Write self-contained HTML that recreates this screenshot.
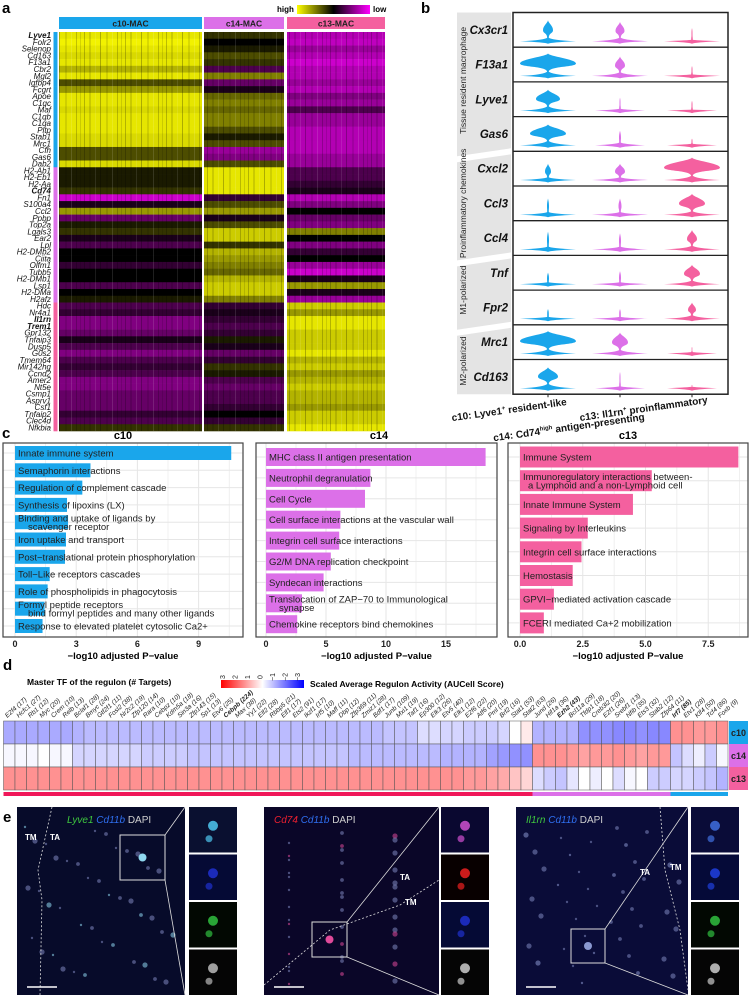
<!DOCTYPE html>
<html><head><meta charset="utf-8"><style>
html,body{margin:0;padding:0;background:#fff;}
svg{display:block;font-family:"Liberation Sans",Arial,sans-serif;}
</style></head><body>
<svg id="fig" xmlns="http://www.w3.org/2000/svg" width="750" height="996" viewBox="0 0 750 996">
<defs>
<linearGradient id="hlGrad" x1="0" x2="1" y1="0" y2="0"><stop offset="0" stop-color="#ffff00"/><stop offset="0.5" stop-color="#000"/><stop offset="1" stop-color="#ff00ff"/></linearGradient>
<linearGradient id="rbGrad" x1="0" x2="1" y1="0" y2="0"><stop offset="0" stop-color="#ff0000"/><stop offset="0.5" stop-color="#fff"/><stop offset="1" stop-color="#0000ff"/></linearGradient>
<pattern id="stripes" patternUnits="userSpaceOnUse" width="41" height="7">
<rect x="2" y="0" width="1" height="7" fill="#000" opacity="0.22"/><rect x="7" y="0" width="2" height="7" fill="#000" opacity="0.12"/><rect x="13" y="0" width="1" height="7" fill="#fff" opacity="0.1"/><rect x="18" y="0" width="1" height="7" fill="#000" opacity="0.25"/><rect x="24" y="0" width="2" height="7" fill="#000" opacity="0.1"/><rect x="30" y="0" width="1" height="7" fill="#fff" opacity="0.12"/><rect x="35" y="0" width="1" height="7" fill="#000" opacity="0.2"/><rect x="39" y="0" width="1" height="7" fill="#000" opacity="0.12"/>
</pattern>
</defs>
</svg>
<script>
// ---------- Panel a data ----------
const genesA=["Lyve1","Folr2","Selenop","Cd163","F13a1","Cbr2","Mgl2","Igfbp4","Fcgrt","Apoe","C1qc","Maf","C1qb","C1qa","Pltp","Stab1","Mrc1","Cfh","Gas6","Dab2","H2-Ab1","H2-Eb1","H2-Aa","Cd74","Fn1","S100a4","Ccl2","Ppbp","Top2a","Lgals3","Ear2","Lpl","H2-DMb2","Ciita","Olfm1","Tubb5","H2-DMb1","Lsp1","H2-DMa","H2afz","Hdc","Nr4a1","Il1rn","Trem1","Gpr132","Tnfaip3","Dusp5","G0s2","Tmem64","Mir142hg","Ccnd2","Amer2","Nt5e","Csmp1","Asprv1","Csf1","Tnfaip2","Clec4d","Nfkbia"];
const boldGenesA=["Lyve1","Cd74","Il1rn","Trem1"];
const heatC10=[.9,.95,.9,.85,.9,.7,.9,.3,.6,.9,.9,.85,.9,.9,.9,.85,.85,.3,.3,.85,.1,.1,.1,.2,-.8,-.1,.6,-.4,.1,.2,-.1,-.3,0,0,-.2,0,0,-.3,0,.1,-.3,-.2,-.5,-.5,-.4,-.1,-.3,-.5,-.3,-.2,-.3,-.5,-.5,-.4,-.4,-.4,-.2,-.3,.2];
const heatC14=[.2,0,.1,.3,.2,-.3,.5,-.4,-.1,.4,.5,.4,.5,.5,.3,.1,.3,-.6,-.5,.3,.9,.9,.9,.9,-.2,.3,.6,-.1,.3,.8,.8,.2,.7,.6,.5,.4,.7,.8,.8,.5,-.2,-.1,-.2,-.3,-.2,.1,-.1,-.4,-.2,.2,.1,-.3,-.4,-.3,-.3,-.2,0,-.2,.2];
const heatC13=[-.7,-.75,-.6,-.7,-.8,-.7,-.7,-.6,-.7,-.5,-.6,-.3,-.6,-.6,-.7,-.7,-.7,-.7,-.6,-.6,-.3,-.3,-.2,-.1,-.7,-.5,0,-.4,-.5,.5,0,-.5,-.2,0,-.6,-.8,-.1,.6,-.1,-.6,.8,.6,.9,.9,.8,.8,.8,.9,.7,.8,.6,.7,.8,.7,.7,.6,.8,.8,.9];
const clusterNamesA=["c10-MAC","c14-MAC","c13-MAC"];

// ---------- Panel b data ----------
const genesB=["Cx3cr1","F13a1","Lyve1","Gas6","Cxcl2","Ccl3","Ccl4","Tnf","Fpr2","Mrc1","Cd163"];
const bulbC10=[5,28,12,18,3,1,1,1,0.8,28,10];
const bulbC14=[4.5,5,0.5,1,5,1.5,1,1,0.8,8,0.5];
const bulbC13=[0.5,0.5,0.5,0.5,28,13,5,8,4,0.3,0.3];
const topC10=[.85,.9,.85,.85,.7,.7,.75,.55,.5,.9,.85];
const topC14=[.8,.8,.6,.65,.7,.7,.7,.6,.5,.85,.7];
const topC13=[.6,.5,.5,.4,.9,.85,.8,.8,.7,.4,.3];
const baseC10=[28,28,28,28,28,28,28,28,28,28,28];
const baseC14=[28,28,25,25,28,28,28,28,28,28,25];
const baseC13=[28,28,25,25,28,28,28,28,28,25,25];
const thickC10=[4,5,5,5,3,3,3,2,2,5,5];
const thickC14=[4,4,2,3,3,3,3,2,2,4,2];
const thickC13=[1.5,1.5,1,1.5,5,4,4,4,4,1.5,1.5];
const groupsB=[["Tissue resident macrophage",0,4],["Proinflammatory chemokines",4,7],["M1-polarized",7,9],["M2-polarized",9,11]];
const xLabelsB=["c10: Lyve1","c14: Cd74","c13: Il1rn"];

// ---------- Panel c data ----------
const termsC10=["Innate immune system","Semaphorin interactions","Regulation of complement cascade","Synthesis of lipoxins (LX)","Binding and uptake of ligands by|    scavenger receptor","Iron uptake and transport","Post−translational protein phosphorylation","Toll−Like receptors cascades","Role of phospholipids in phagocytosis","Formyl peptide receptors|    bind formyl peptides and many other ligands","Response to elevated platelet cytosolic Ca2+"];
const valsC10=[10.6,3.7,3.3,2.55,2.6,2.5,2.45,1.7,1.6,1.45,1.35];
const ticksC10=[0,3,6,9];
const termsC14=["MHC class II antigen presentation","Neutrophil degranulation","Cell Cycle","Cell surface interactions at the vascular wall","Integrin cell surface interactions","G2/M DNA replication checkpoint","Syndecan interactions","Translocation of ZAP−70 to Immunological|    synapse","Chemokine receptors bind chemokines"];
const valsC14=[18.3,8.7,8.25,6.2,6.1,5.4,4.8,3.0,2.6];
const ticksC14=[0,5,10,15];
const termsC13=["Immune System","Immunoregulatory interactions between-|  a Lymphoid and a non-Lymphoid cell","Innate Immune System","Signaling by Interleukins","Integrin cell surface interactions","Hemostasis","GPVI−mediated activation cascade","FCERI mediated Ca+2 mobilization"];
const valsC13=[8.7,5.25,4.5,2.7,2.45,2.1,1.35,0.95];
const ticksC13=[0,2.5,5,7.5];

// ---------- Panel d data ----------
const tfNames=["E2f4 (17)","Hcfc1 (27)","Rb1 (12)","Myc (20)","Crem (10)","Relb (13)","Bclaf1 (28)","Bmyc (24)","Gtf2f1 (11)","Fosl2 (38)","Nr2c2 (19)","Zfp120 (14)","Rara (10)","Cebpz (10)","Kdm5a (18)","Sin3a (16)","Zfp143 (15)","Sp1 (13)","Etv6 (25)","Cebpb (224)","Max (38)","Yy1 (22)","Elf2 (28)","Rbbp5 (21)","Elf1 (17)","Ets2 (91)","Ikzf1 (17)","Irf5 (10)","Maff (11)","Dbp (12)","Zfp369 (11)","Zmiz1 (28)","Bdf1 (17)","Junb (109)","Mxi1 (19)","Taf1 (16)","Ep300 (12)","Elk3 (26)","Etv5 (40)","Elk1 (12)","E2f6 (22)","Atf6 (20)","Pml (19)","Brf2 (16)","Stat1 (53)","Stat2 (63)","Jund (26)","Hif1a (36)","Ezh2 (43)","Bcl11a (29)","Tfdp1 (18)","Creb3l2 (20)","E2f1 (26)","Srebf1 (13)","Nfib (35)","Ets3 (32)","Stab2 (12)","Zfp64 (11)","Irf7 (85)","Etv1 (28)","Klf4 (50)","Tcf4 (86)","Foxb (9)"];
const boldTF=["Cebpb (224)","Ezh2 (43)","Irf7 (85)"];
const aucC10=[-1,-1,-1,-1,-1,-1,-.9,-.8,-.8,-.8,-.8,-.8,-.8,-.8,-.8,-.8,-.8,-.8,-.8,-.8,-.8,-.8,-.8,-.8,-.8,-.8,-.8,-.8,-.8,-.8,-.8,-.8,-.8,-.7,-.7,-.7,-.4,-.4,-.5,-.5,-.6,-.6,-.6,-.5,0,.25,-.9,-.9,-.9,-.9,-1.3,-1.3,-1.3,-1.4,-1.4,-1.3,-1.4,-1.4,1.3,1.3,1.2,1.2,1.3];
const aucC14=[-.1,-.1,-.1,0,-.1,-.1,-.5,-.5,-.5,-.5,-.5,-.5,-.6,-.6,-.6,-.6,-.7,-.7,-.7,-.7,-.7,-.7,-.7,-.7,-.7,-.7,-.7,-.7,-.7,-.7,-.8,-.8,-.8,-.8,-.8,-.8,-.8,-.8,-.9,-.9,-.9,-.9,-1.1,-1.2,-1.3,-1.3,1.3,1.3,1.3,1.2,1.1,1.2,1.2,1.3,1.2,1.1,1.2,1.2,-.7,-.4,-.2,-.6,-.1];
const aucC13=[1.3,1.3,1.3,1.3,1.3,1.3,1.3,1.3,1.3,1.3,1.3,1.3,1.3,1.3,1.3,1.3,1.3,1.3,1.3,1.3,1.3,1.3,1.3,1.3,1.3,1.3,1.3,1.3,1.3,1.3,1.3,1.3,1.3,1.3,1.3,1.3,1.3,1.3,1.3,1.3,1.2,1.2,1.1,1,.7,.5,-.4,-.6,-.7,-.3,0,-.2,0,-.4,-.1,0,-.6,-.6,-.5,-.5,-.6,-.7,-.9];
const groupSizesD=[46,12,5];

// ---------- helpers ----------
const NS='http://www.w3.org/2000/svg';
const svg=document.getElementById('fig');
function el(tag,attrs,parent){const e=document.createElementNS(NS,tag);for(const k in attrs)e.setAttribute(k,attrs[k]);(parent||svg).appendChild(e);return e;}
function txt(str,attrs,parent){const t=el('text',attrs,parent);t.textContent=str;return t;}
const BLUE='#1aa6eb',VIOL='#dc70e8',PINK='#f4609f';
const clusterColors=[BLUE,VIOL,PINK];

[["a",2,13],["b",421,13],["c",2,438],["d",3,670],["e",3,822]].forEach(function(p){
 const t=txt(p[0],{x:p[1],y:p[2],'font-size':15,'font-weight':'bold'});
 
 
});

// ========== Panel a ==========
(function(){
 const g=el('g',{});
 
 
 let t=txt('high',{x:277,y:12,'font-size':8,'font-weight':'bold'},g);
 
 
 let r=el('rect',{x:297,y:5,width:73,height:9,fill:'url(#hlGrad)'},g);
 
 
 t=txt('low',{x:373,y:12,'font-size':8,'font-weight':'bold'},g);
 
 
 const xr=[[59,202],[204,284],[287,385]];
 const top=32,bot=431,rh=(bot-top)/genesA.length;
 const sets=[heatC10,heatC14,heatC13];
 xr.forEach(function(c,ci){
  const hb=el('rect',{x:c[0],y:17,width:c[1]-c[0],height:12,fill:clusterColors[ci]},g);
  
  
  const ht=txt(clusterNamesA[ci],{x:(c[0]+c[1])/2,y:26.5,'font-size':8.5,'font-weight':'bold','text-anchor':'middle',fill:'#222'},g);
  
  
 });
 function col(v){v=Math.max(-1,Math.min(1,v));if(v>=0){const k=Math.round(255*v);return 'rgb('+k+','+k+',0)';}const k=Math.round(255*-v);return 'rgb('+k+',0,'+k+')';}
 genesA.forEach(function(gn,i){
  const y=top+i*rh;
  xr.forEach(function(c,ci){
   const cell=el('rect',{x:c[0],y:y,width:c[1]-c[0],height:rh+0.3,fill:col(sets[ci][i])},g);
   
   
  });
  const lab=txt(gn,{x:51,y:y+rh/2+2.8,'font-size':8,'font-style':'italic','text-anchor':'end','font-weight':boldGenesA.indexOf(gn)>=0?'bold':'normal',fill:'#111'},g);
  
  
  const sb=el('rect',{x:53.5,y:y,width:4,height:rh+0.3,fill:i<20?BLUE:(i<40?VIOL:PINK)},g);
  
  
 });
 xr.forEach(function(c){
  const ov=el('rect',{x:c[0],y:top,width:c[1]-c[0],height:bot-top,fill:'url(#stripes)'},g);
  
  
 });
})();

// ========== Panel b ==========
(function(){
 const g=el('g',{});
 
 
 const L=513,R=728,T=12.5,rh=34.7,n=genesB.length,B=T+rh*n;
 const cxs=[548,620,692];
 const bulbs=[bulbC10,bulbC14,bulbC13],tops=[topC10,topC14,topC13],bases=[baseC10,baseC14,baseC13],thicks=[thickC10,thickC14,thickC13];
 groupsB.forEach(function(gr,gi){
  const y0=T+gr[1]*rh+(gi>0?3:0), y1=T+gr[2]*rh-(gi<groupsB.length-1?3:0);
  const poly=el('polygon',{points:(457)+','+(y0+(gi>0?8:0))+' 511,'+y0+' 511,'+y1+' 457,'+(y1+(gi<groupsB.length-1?8:0)),fill:'#e4e4e4'},g);
  
  
  const cy=(y0+y1)/2;
  const gt=txt(gr[0],{x:466,y:cy,'font-size':8.5,'text-anchor':'middle',transform:'rotate(-90 466 '+cy+')',fill:'#222'},g);
  
  
 });
 genesB.forEach(function(gn,i){
  const rt=T+i*rh, rb=rt+rh;
  const lab=txt(gn,{x:508,y:rt+rh/2+4,'font-size':11.5,'font-style':'italic','font-weight':'bold','text-anchor':'end',fill:'#111'},g);
  
  
  cxs.forEach(function(cx,ci){
   const wb=bases[ci][i],bt=thicks[ci][i],wu=bulbs[ci][i],tp=tops[ci][i];
   const baseY=rb-6;
   const base=el('path',{d:'M'+(cx-wb)+','+baseY+' Q'+(cx-3)+','+(baseY-1)+' '+cx+','+(baseY-bt)+' Q'+(cx+3)+','+(baseY-1)+' '+(cx+wb)+','+baseY+' Q'+(cx+3)+','+(baseY+1)+' '+cx+','+(baseY+2.5)+' Q'+(cx-3)+','+(baseY+1)+' '+(cx-wb)+','+baseY+'Z',fill:clusterColors[ci]},g);
   
   
   const yb=baseY-bt+1, yt=rb-tp*(rh-3), ym=yb-(yb-yt)*0.45;
   const d='M'+(cx-0.8)+','+yb+' C'+(cx-0.8)+','+(ym+(yb-ym)*0.3)+' '+(cx-wu)+','+(ym+(yb-ym)*0.45)+' '+(cx-wu)+','+ym+' C'+(cx-wu)+','+(ym-(ym-yt)*0.45)+' '+(cx-0.5)+','+(yt+(ym-yt)*0.3)+' '+cx+','+yt+' C'+(cx+0.5)+','+(yt+(ym-yt)*0.3)+' '+(cx+wu)+','+(ym-(ym-yt)*0.45)+' '+(cx+wu)+','+ym+' C'+(cx+wu)+','+(ym+(yb-ym)*0.45)+' '+(cx+0.8)+','+(ym+(yb-ym)*0.3)+' '+(cx+0.8)+','+yb+'Z';
   const bulb=el('path',{d:d,fill:clusterColors[ci]},g);
   
   
  });
  if(i>0){const ln=el('line',{x1:L,x2:R,y1:rt,y2:rt,stroke:'#222','stroke-width':1.3},g);
   
   }
 });
 const fr=el('rect',{x:L,y:T,width:R-L,height:B-T,fill:'none',stroke:'#222','stroke-width':1.5},g);
 
 
 const sups=["+","high","+"],rests=[" resident-like"," antigen-presenting"," proinflammatory"];
 const ends=[[567,405],[645,420],[708,403]];
 cxs.forEach(function(cx,ci){
  const tk=el('line',{x1:cx,x2:cx,y1:B,y2:B+3,stroke:'#222','stroke-width':1},g);
  
  
  const e=ends[ci];
  const t=txt('',{x:e[0],y:e[1],'font-size':10,'font-weight':'bold','text-anchor':'end',transform:'rotate(-8 '+e[0]+' '+e[1]+')',fill:'#111'},g);
  
  
  const s1=el('tspan',{},t);s1.textContent=xLabelsB[ci];
  const s2=el('tspan',{'font-size':6,dy:-4},t);s2.textContent=sups[ci];
  const s3=el('tspan',{dy:4},t);s3.textContent=rests[ci];
 });
})();

// ========== Panel c ==========
function barPanel(name,title,terms,vals,ticks,L,R,T,B,x0,unit,c0,step,bh,color,titleX){
 const g=el('g',{});
 
 
 const ti=txt(title,{x:titleX,y:439,'font-size':11,'font-weight':'bold','text-anchor':'middle'},g);
 
 
 const xs=function(v){return x0+v*unit;};
 const half=(ticks[1]-ticks[0])/2;
 for(let v=0;xs(v)<R;v+=half){
  const gl=el('line',{x1:xs(v),x2:xs(v),y1:T,y2:B,stroke:'#e6e6e6','stroke-width':Math.abs(v/(2*half)-Math.round(v/(2*half)))<0.01?1:0.6},g);
  
  
 }
 terms.forEach(function(tm,i){
  const cy=c0+i*step;
  const hl=el('line',{x1:L,x2:R,y1:cy,y2:cy,stroke:'#e6e6e6','stroke-width':1},g);
  
  
 });
 terms.forEach(function(tm,i){
  const cy=c0+i*step;
  const bar=el('rect',{x:xs(0),y:cy-bh/2,width:xs(vals[i])-xs(0),height:bh,fill:color},g);
  
  
  const lines=tm.split('|');
  lines.forEach(function(ln,k){
   const yy=cy+3.5+(k-(lines.length-1)/2)*8.5;
   const t=txt(ln.replace(/^ +/,''),{x:xs(0)+3+(ln.match(/^ */)[0].length*2.5),y:yy,'font-size':9.5,fill:'#222'},g);
   
   
  });
 });
 const fr=el('rect',{x:L,y:T,width:R-L,height:B-T,fill:'none',stroke:'#444','stroke-width':1.2},g);
 
 
 ticks.forEach(function(tv){
  const tl=txt(String(ticks.indexOf(2.5)>=0?tv.toFixed(1):tv),{x:xs(tv),y:647,'font-size':9,'font-weight':'bold','text-anchor':'middle',fill:'#222'},g);
  
  
 });
 const at=txt('−log10 adjusted P−value',{x:(L+R)/2,y:659,'font-size':9.5,'font-weight':'bold','text-anchor':'middle'},g);
 
 
}
barPanel('enrichment-c10','c10',termsC10,valsC10,ticksC10,3,243,443,637,15,20.4,453,17.3,14,BLUE,123);
barPanel('enrichment-c14','c14',termsC14,valsC14,ticksC14,256,497,443,637,266,12.0,457,20.9,18,VIOL,379);
barPanel('enrichment-c13','c13',termsC13,valsC13,ticksC13,508,748,443,637,520,25.1,457,23.7,21,PINK,628);

// ========== Panel d ==========
(function(){
 const g=el('g',{});
 
 
 let t=txt('Master TF of the regulon (# Targets)',{x:27,y:685,'font-size':8.5,'font-weight':'bold'},g);
 
 
 const lb=el('rect',{x:221,y:680,width:83,height:8,fill:'url(#rbGrad)'},g);
 
 
 ["3","2","1","0","−1","−2","−3"].forEach(function(s,k){
  const x=225+k*12.5;
  const tk=txt(s,{x:x,y:677,'font-size':7,transform:'rotate(-90 '+x+' 677)','text-anchor':'middle',fill:'#222'},g);
  
  
 });
 t=txt('Scaled Average Regulon Activity (AUCell Score)',{x:310,y:687,'font-size':8.5,'font-weight':'bold'},g);
 
 
 const L=3.5,cw=11.5,T=721,rh=23;
 const rows=[aucC10,aucC14,aucC13];
 function col(v){const tt=Math.max(-1,Math.min(1,v/3));if(tt>=0){const k=Math.round(255*(1-tt));return 'rgb(255,'+k+','+k+')';}const k=Math.round(255*(1+tt));return 'rgb('+k+','+k+',255)';}
 tfNames.forEach(function(nm,j){
  const x=L+j*cw;
  rows.forEach(function(row,ri){
   const c=el('rect',{x:x,y:T+ri*rh,width:cw,height:rh,fill:col(row[j]),stroke:'#555','stroke-width':0.5},g);
   
   
  });
  const lx=x+cw/2-2, ly=718;
  const lt=txt(nm,{x:lx,y:ly,'font-size':6.5,'font-style':'italic','font-weight':boldTF.indexOf(nm)>=0?'bold':'normal',transform:'rotate(-42 '+lx+' '+ly+')',fill:'#222'},g);
  
  
 });
 ["c10","c14","c13"].forEach(function(s,ri){
  const b=el('rect',{x:L+63*cw+1,y:T+ri*rh,width:19,height:rh,fill:clusterColors[ri]},g);
  
  
  const tt=txt(s,{x:L+63*cw+10.5,y:T+ri*rh+15,'font-size':9,'font-weight':'bold','text-anchor':'middle',fill:'#222'},g);
  
  
 });
 let start=0;
 const gcols=['#f0185a',VIOL,BLUE];
 groupSizesD.forEach(function(n,k){
  const r=el('rect',{x:L+start*cw,y:T+3*rh+2,width:n*cw,height:4,fill:gcols[k]},g);
  
  
  start+=n;
 });
})();

// ========== Panel e ==========
(function(){
 const groups=[
  {x:17,w:168,ix:189,label:["Lyve1","#3ec83e"],bg:'#070b2a',cellCol:'#8fd8f0',ins:['#0a1030','#050a35','#020802','#050505'],insCell:['#4fc8f0','#2030d0','#30c040','#bbbbbb'],box:[120,835,45,45],tm:[[25,840,"TM"],[50,840,"TA"]]},
  {x:264,w:175,ix:441,label:["Cd74","#ee2030"],bg:'#0a0628',cellCol:'#e04a9a',ins:['#0a0830','#080000','#050a35','#050505'],insCell:['#d050d0','#ee2020','#2030d0','#cccccc'],box:[312,922,35,35],tm:[[400,880,"TA"],[405,905,"TM"]]},
  {x:516,w:172,ix:691,label:["Il1rn","#3ec83e"],bg:'#0a0c38',cellCol:'#8a98d0',ins:['#0a0c38','#050a38','#020802','#050505'],insCell:['#4070e0','#2040e0','#30c040','#cccccc'],box:[571,929,34,34],tm:[[640,875,"TA"],[670,870,"TM"]]}
 ];
 const T=807,B=995;
 groups.forEach(function(G,gi){
  const g=el('g',{});
  
  
  const m=el('rect',{x:G.x,y:T,width:G.w,height:B-T,fill:G.bg},g);
  
  
  for(let k=0;k<40;k++){
   const cx=G.x+8+((k*53+gi*17)%(G.w-16)), cy=T+20+((k*37+gi*29)%(B-T-30));
   const c=el('circle',{cx:cx,cy:cy,r:1.2+(k%3)*0.7,fill:k%4===0?G.cellCol:'#8088c0',opacity:0.55},g);
   
   
  }
  const dl=el('path',{d:gi===0?'M52,807 L38,870 L42,900 L40,995':(gi===1?'M264,985 L330,930 L400,905 L439,880':'M660,807 L665,870 L680,930 L688,990'),stroke:'#ddd','stroke-width':0.8,'stroke-dasharray':'2,2',fill:'none'},g);
  
  
  const bx=G.box;
  const br=el('rect',{x:bx[0],y:bx[1],width:bx[2],height:bx[3],fill:'none',stroke:'#ddd','stroke-width':1},g);
  
  
  const l1=el('line',{x1:bx[0]+bx[2],y1:bx[1],x2:G.x+G.w,y2:T,stroke:'#ddd','stroke-width':0.8},g);
  
  
  const l2=el('line',{x1:bx[0]+bx[2],y1:bx[1]+bx[3],x2:G.x+G.w,y2:B,stroke:'#ddd','stroke-width':0.8},g);
  
  
  const hc=el('circle',{cx:bx[0]+bx[2]/2,cy:bx[1]+bx[3]/2,r:4,fill:G.cellCol},g);
  
  
  const t=txt('',{x:G.x+(gi===0?50:10),y:T+16,'font-size':10,'font-style':'italic'},g);
  
  
  const a=el('tspan',{fill:G.label[1]},t);a.textContent=G.label[0]+'  ';
  const b=el('tspan',{fill:'#2f6ff0'},t);b.textContent='Cd11b  ';
  const c=el('tspan',{fill:'#cfcfcf','font-style':'normal'},t);c.textContent='DAPI';
  G.tm.forEach(function(q){
   const tt=txt(q[2],{x:q[0],y:q[1],'font-size':8,'font-weight':'bold',fill:'#fff'},g);
   
   
  });
  const sbar=el('line',{x1:G.x+10,x2:G.x+40,y1:B-8,y2:B-8,stroke:'#fff','stroke-width':1.5},g);
  
  
  const ih=(B-T-6)/4;
  for(let k=0;k<4;k++){
   const iy=T+k*(ih+2);
   const ir=el('rect',{x:G.ix,y:iy,width:48,height:ih,fill:G.ins[k]},g);
   
   
   const ic=el('circle',{cx:G.ix+24,cy:iy+ih/2-4,r:5,fill:G.insCell[k],opacity:0.85},g);
   
   
   const ic2=el('circle',{cx:G.ix+20,cy:iy+ih/2+9,r:3.5,fill:G.insCell[k],opacity:0.7},g);
   
   
  }
 });
})();
</script>
</body></html>
